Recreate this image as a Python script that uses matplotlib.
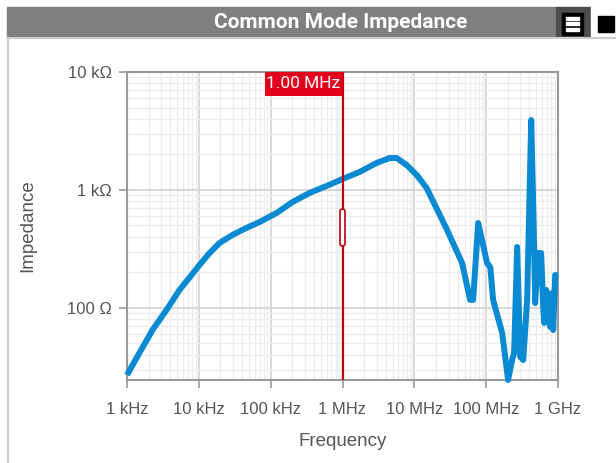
import matplotlib
matplotlib.use("Agg")
import matplotlib.pyplot as plt
import numpy as np
from matplotlib.patches import Rectangle, FancyBboxPatch
from matplotlib.ticker import LogLocator, NullFormatter, FixedLocator, FixedFormatter

plt.rcParams["font.family"] = ["Liberation Sans", "DejaVu Sans"]

# frequency (Hz) and impedance (Ohm)
freq_hz = [1.0e3, 1.49e3, 2.27e3, 3.55e3, 5.38e3, 7.91e3, 1.02e4, 1.41e4, 1.94e4, 2.94e4,
           4.61e4, 7.0e4, 1.21e5, 2.02e5, 3.48e5, 6.01e5, 1.0e6, 1.73e6, 2.98e6, 4.53e6,
           5.66e6, 7.81e6, 1.08e7, 1.48e7, 2.86e7, 4.63e7, 5.98e7, 6.59e7,
           7.74e7, 1.03e8, 1.14e8, 1.25e8, 1.67e8, 2.02e8, 2.30e8, 2.45e8, 2.70e8, 2.98e8,
           3.28e8, 3.72e8, 4.24e8, 4.67e8, 4.81e8, 5.30e8, 5.83e8, 6.22e8, 6.42e8, 6.85e8,
           7.31e8, 7.78e8, 8.30e8, 8.57e8, 9.14e8, 1.0e9]
impedance_ohm = [27, 41.6, 65.2, 96.2, 142, 190, 231, 292, 355, 416,
                 477, 535, 638, 791, 944, 1081, 1239, 1422, 1694, 1866,
                 1866, 1629, 1340, 1040, 458, 240, 117, 117,
                 525, 240, 222, 117, 61.4, 24.5, 36.2, 41.6, 329, 38.5,
                 36.2, 117, 3917, 310, 110, 292, 292, 102, 74.7, 142,
                 84, 69, 134, 65, 190, 190]

x_ticks = [1e3, 1e4, 1e5, 1e6, 1e7, 1e8, 1e9]
x_tick_labels = ["1 kHz", "10 kHz", "100 kHz", "1 MHz", "10 MHz", "100 MHz", "1 GHz"]
y_ticks = [100, 1000, 10000]
y_tick_labels = ["100 Ω", "1 kΩ", "10 kΩ"]
cursor_freq = 1e6
cursor_label = "1.00 MHz"

W, H = 616, 463
fig = plt.figure(figsize=(W / 100, H / 100), dpi=100)

# panel chrome, drawn in pixel coordinates
bg = fig.add_axes([0, 0, 1, 1], zorder=0)
bg.set_xlim(0, W)
bg.set_ylim(H, 0)
bg.axis("off")
bg.add_patch(Rectangle((7, 7), 549, 30, color="#7f7f7f"))
bg.add_patch(Rectangle((556, 7), 34, 30, color="#4d4d4d"))
bg.add_patch(Rectangle((562, 13), 21, 22, color="black"))
for yy in (18, 23.5, 29):
    bg.add_patch(Rectangle((566, yy - 1.5), 13, 3, color="white"))
bg.add_patch(Rectangle((591, 7), 25, 30, color="white"))
bg.add_patch(Rectangle((598, 16), 16, 16, color="black"))
bg.plot([7, 616], [38, 38], color="#cccccc", lw=1.5)
bg.plot([7.5, 7.5], [38, H], color="#cccccc", lw=1.5)
bg.text(341, 22, "Common Mode Impedance", color="white", fontsize=15,
        fontweight="bold", family="Roboto", ha="center", va="center")

ax = fig.add_axes([127 / W, (H - 380) / H, 431 / W, 308 / H], zorder=1)
ax.patch.set_alpha(0)
ax.set_xscale("log")
ax.set_yscale("log")
ax.set_xlim(1e3, 1e9)
ax.set_ylim(24.5, 1e4)

ax.xaxis.set_major_locator(FixedLocator(x_ticks))
ax.xaxis.set_major_formatter(FixedFormatter(x_tick_labels))
ax.yaxis.set_major_locator(FixedLocator(y_ticks))
ax.yaxis.set_major_formatter(FixedFormatter(y_tick_labels))
for a in (ax.xaxis, ax.yaxis):
    a.set_minor_locator(LogLocator(base=10, subs=np.arange(2, 10), numticks=20))
    a.set_minor_formatter(NullFormatter())

ax.grid(which="major", color="#d2d2d2", lw=1.2)
ax.grid(which="minor", color="#ececec", lw=1.0)
ax.set_axisbelow(True)
ax.tick_params(which="major", length=6, width=1.2, color="#999999",
               labelsize=12, labelcolor="#555555")
ax.tick_params(axis="x", pad=10)
ax.tick_params(axis="y", pad=5)
ax.tick_params(which="minor", length=0)
for s in ax.spines.values():
    s.set_color("#999999")
    s.set_linewidth(1.5)

ax.set_xlabel("Frequency", fontsize=13.5, color="#555555", labelpad=11)
ax.set_ylabel("Impedance", fontsize=13.5, color="#555555", labelpad=22)

ax.plot(freq_hz, impedance_ohm, color="#0a8ad2", lw=4.3, solid_joinstyle="round",
        solid_capstyle="butt", zorder=3, clip_on=False)

# cursor line, label and handle
ax.axvline(cursor_freq, color="#c00010", lw=1.6, zorder=4)
fig.canvas.draw()
px = ax.transData.transform((cursor_freq, 100))[0]
ov = fig.add_axes([0, 0, 1, 1], zorder=2)
ov.set_xlim(0, W)
ov.set_ylim(H, 0)
ov.axis("off")
ov.add_patch(Rectangle((px - 78, 72), 77, 23.5, facecolor="#e3001b", edgecolor="none"))
ov.text(px - 39.5, 84, cursor_label, ha="center", va="center", fontsize=12.5,
        color="white", family="Roboto")
ov.add_patch(FancyBboxPatch((px - 2.5, 209), 5, 37, boxstyle="round,pad=0,rounding_size=2.5",
                            facecolor="white", edgecolor="#c00010", lw=1.2))

fig.savefig("out.png", dpi=100)
